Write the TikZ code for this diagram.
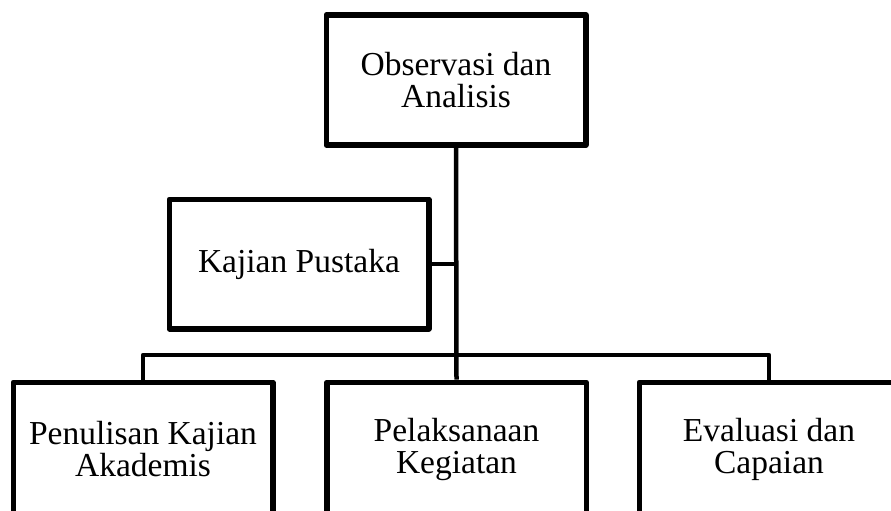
\documentclass[tikz,border=0pt]{standalone}
\usepackage{fontspec}
\setmainfont{Liberation Serif}
\begin{document}
\begin{tikzpicture}[x=1pt,y=-1pt,
  box/.style={draw, line width=5.5pt, line join=round, inner sep=0pt, align=center,
    minimum width=259.5pt, font=\fontsize{33.5}{32}\selectfont},
  link/.style={line width=4.5pt}]
\clip (0,0) rectangle (891,511);
\useasboundingbox (0,0) rectangle (891,511);
\node[box, minimum height=130pt] (obs) at (456,80) {Observasi dan\\Analisis};
\node[box, minimum height=129.5pt] (kaj) at (299,264) {Kajian Pustaka};
\node[box, minimum height=133.5pt] (pen) at (143,449) {Penulisan Kajian\\Akademis};
\node[box, minimum height=133.5pt] (pel) at (456.5,449) {Pelaksanaan\\Kegiatan};
\node[box, minimum height=133.5pt] (eva) at (769,449) {Evaluasi dan\\Capaian};
\coordinate (bus) at (456,355);
\draw[link] (obs.south) -- (pel.north);
\draw[link] (kaj.east) -- (kaj.east -| obs.south);
\draw[link, line join=round] (pen.north) |- (bus) -| (eva.north);
\end{tikzpicture}
\end{document}
